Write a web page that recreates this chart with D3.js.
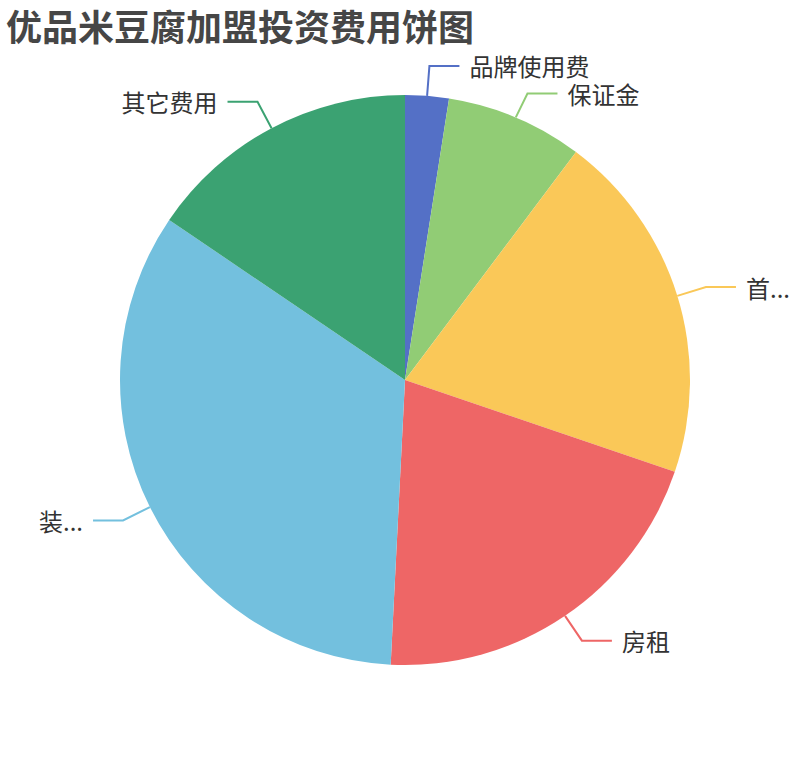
<!DOCTYPE html>
<html>
<head>
<meta charset="utf-8">
<script src="https://cdn.jsdelivr.net/npm/d3@7/dist/d3.min.js"></script>
<style>
  html, body { margin: 0; padding: 0; background: #fff; }
  #pie-chart { width: 810px; height: 760px; }
  text { font-family: "Noto Sans CJK SC", "Noto Sans", sans-serif; }
</style>
</head>
<body>
<div id="pie-chart"></div>
<script>
// data (share of total, %)
const titleText = '优品米豆腐加盟投资费用饼图';
const categories = ['品牌使用费', '保证金', '首...', '房租', '装...', '其它费用'];
const values = [2.47, 7.77, 19.98, 20.58, 33.69, 15.51];
const colors = ['#5470c6', '#91cc75', '#fac858', '#ee6666', '#73c0de', '#3ba272'];

const width = 810,
      height = 760,
      cx = width / 2,
      cy = height / 2,
      radius = Math.min(width, height) / 2 * 0.75,
      len1 = 30,
      len2 = 30,
      gap = 10,
      lineHeight = 27.6;

const svg = d3.select('#pie-chart').append('svg')
  .attr('width', width)
  .attr('height', height);

svg.append('text')
  .attr('x', 6)
  .attr('y', 25)
  .attr('dominant-baseline', 'central')
  .attr('font-size', 36)
  .attr('font-weight', 'bold')
  .attr('fill', '#464646')
  .text(titleText);

const data = categories.map((name, i) => ({name: name, value: values[i], color: colors[i]}));

const pie = d3.pie()
  .sort(null)
  .value(d => d.value);

const arc = d3.arc()
  .innerRadius(0)
  .outerRadius(radius);

const arcs = pie(data);

const chartGroup = svg.append('g')
  .attr('transform', 'translate(' + cx + ',' + cy + ')');

chartGroup.selectAll('path.slice')
  .data(arcs)
  .enter().append('path')
  .attr('class', 'slice')
  .attr('d', arc)
  .attr('fill', d => d.data.color);

//label line points: edge, bend, end
arcs.forEach(d => {
  const mid = (d.startAngle + d.endAngle) / 2;
  const sx = Math.sin(mid), sy = -Math.cos(mid);
  d.dir = sx >= 0 ? 1 : -1;
  d.p0 = [radius * sx, radius * sy];
  d.p1 = [(radius + len1) * sx, (radius + len1) * sy];
});

//push overlapping labels apart, per side
[1, -1].forEach(side => {
  const list = arcs.filter(d => d.dir === side).sort((a, b) => a.p1[1] - b.p1[1]);
  for(let i = 1; i < list.length; i++){
    const prev = list[i-1].p1[1];
    if(list[i].p1[1] < prev + lineHeight){
      list[i].p1 = [list[i].p1[0], prev + lineHeight];
    }
  }
});

arcs.forEach(d => {
  d.p2 = [d.p1[0] + d.dir * len2, d.p1[1]];
});

const labels = chartGroup.selectAll('g.label')
  .data(arcs)
  .enter().append('g')
  .attr('class', 'label');

labels.append('polyline')
  .attr('points', d => [d.p0, d.p1, d.p2].map(p => p.join(',')).join(' '))
  .attr('fill', 'none')
  .attr('stroke', d => d.data.color)
  .attr('stroke-width', 2);

labels.append('text')
  .attr('x', d => d.p2[0] + d.dir * gap)
  .attr('y', d => d.p2[1])
  .attr('dominant-baseline', 'central')
  .attr('text-anchor', d => d.dir > 0 ? 'start' : 'end')
  .attr('font-size', 24)
  .attr('fill', '#333')
  .text(d => d.data.name);
</script>
</body>
</html>
